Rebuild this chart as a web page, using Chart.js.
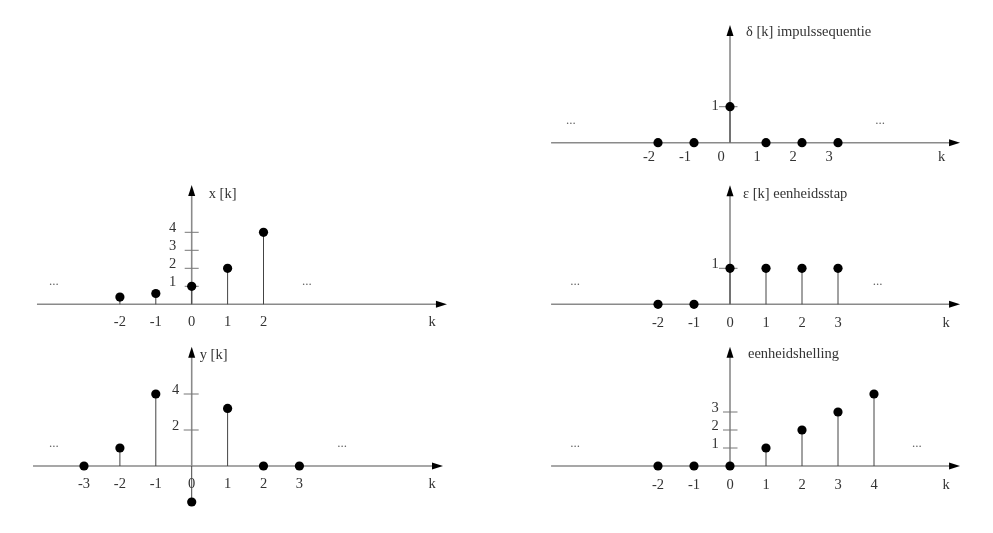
<!DOCTYPE html>
<html>
<head>
<meta charset="utf-8">
<script src="https://cdn.jsdelivr.net/npm/chart.js@4.4.1/dist/chart.umd.min.js"></script>
<style>
body { margin: 0; background: #fff; width: 993px; height: 533px; position: relative; overflow: hidden; }
canvas { position: absolute; }
</style>
</head>
<body>
<canvas id="plot-x"></canvas>
<canvas id="plot-y"></canvas>
<canvas id="plot-delta"></canvas>
<canvas id="plot-step"></canvas>
<canvas id="plot-ramp"></canvas>
<script>
// x[k]
const xK = [-2, -1, 0, 1, 2];
const xValues = [0.4, 0.6, 1, 2, 4];
const xAxisLabels = [-2, -1, 0, 1, 2];
const xValueTicks = [1, 2, 3, 4];

// y[k]
const yK = [-3, -2, -1, 0, 1, 2, 3];
const yValues = [0, 1, 4, -2, 3.2, 0, 0];
const yAxisLabels = [-3, -2, -1, 0, 1, 2, 3];
const yValueTicks = [2, 4];

// impulse
const deltaK = [-2, -1, 0, 1, 2, 3];
const deltaValues = [0, 0, 1, 0, 0, 0];
const deltaAxisLabels = [-2, -1, 0, 1, 2, 3];
const deltaValueTicks = [1];

// unit step
const stepK = [-2, -1, 0, 1, 2, 3];
const stepValues = [0, 0, 1, 1, 1, 1];
const stepAxisLabels = [-2, -1, 0, 1, 2, 3];
const stepValueTicks = [1];

// unit ramp
const rampK = [-2, -1, 0, 1, 2, 3, 4];
const rampValues = [0, 0, 0, 1, 2, 3, 4];
const rampAxisLabels = [-2, -1, 0, 1, 2, 3, 4];
const rampValueTicks = [1, 2, 3];

const FONT = '14.5px "Liberation Serif", "Times New Roman", serif';
const TEXT = '#333';

function line(ctx, x1, y1, x2, y2) {
    ctx.beginPath();
    ctx.moveTo(x1, y1);
    ctx.lineTo(x2, y2);
    ctx.stroke();
}

// axes with arrows, stems, tick marks and texts
const stemPlot = {
    id: "stemPlot",
    beforeDatasetsDraw(chart, args, o) {
        const ctx = chart.ctx;
        const xs = chart.scales.x, ys = chart.scales.y;
        const x0 = xs.getPixelForValue(0);
        const y0 = ys.getPixelForValue(0);
        const right = xs.getPixelForValue(o.xTo);
        const top = ys.getPixelForValue(o.yTo);

        ctx.save();
        ctx.strokeStyle = "#8a8a8a";
        ctx.lineWidth = 1.6;
        line(ctx, xs.getPixelForValue(o.xFrom), y0, right - 8, y0);
        line(ctx, x0, y0, x0, top + 8);

        ctx.fillStyle = "#000";
        ctx.beginPath();
        ctx.moveTo(right, y0);
        ctx.lineTo(right - 11, y0 - 3.5);
        ctx.lineTo(right - 11, y0 + 3.5);
        ctx.closePath();
        ctx.fill();
        ctx.beginPath();
        ctx.moveTo(x0, top);
        ctx.lineTo(x0 - 3.5, top + 11);
        ctx.lineTo(x0 + 3.5, top + 11);
        ctx.closePath();
        ctx.fill();

        // value ticks
        ctx.lineWidth = 1;
        ctx.strokeStyle = "#777";
        ctx.font = FONT;
        ctx.fillStyle = TEXT;
        ctx.textAlign = "center";
        ctx.textBaseline = "middle";
        o.valueTicks.forEach(v => {
            const py = ys.getPixelForValue(v);
            line(ctx, x0 + o.tickFrom, py, x0 + o.tickTo, py);
            ctx.fillText(String(v), x0 + o.tickLabelDx, py + o.tickLabelDy);
        });

        // stems
        ctx.strokeStyle = "#444";
        ctx.lineWidth = 1;
        chart.getDatasetMeta(0).data.forEach(pt => {
            if (Math.abs(pt.y - y0) > 1) line(ctx, pt.x, y0, pt.x, pt.y);
        });

        // k labels
        o.axisLabels.forEach(k => {
            ctx.fillText(String(k), xs.getPixelForValue(k) + o.labelOffset, y0 + o.labelGap);
        });
        ctx.fillText("k", xs.getPixelForValue(o.kAt), y0 + o.labelGap);

        // continuation dots
        ctx.fillStyle = "#666";
        ctx.font = '13px "Liberation Serif", serif';
        o.dots.forEach(d => {
            ctx.fillText("...", xs.getPixelForValue(d[0]), ys.getPixelForValue(d[1]) - 3);
        });

        // title
        ctx.fillStyle = TEXT;
        ctx.font = FONT;
        ctx.textAlign = "left";
        ctx.fillText(o.title, x0 + o.titleDx, top + o.titleDy);
        ctx.restore();
    }
};

function makePlot(id, ks, values, layout, extra) {
    const [bx, by, bw, bh] = layout.box;
    const [ox, oy] = layout.origin;
    const [ux, uy] = layout.unit;
    const canvas = document.getElementById(id);
    canvas.width = bw;
    canvas.height = bh;
    canvas.style.left = bx + "px";
    canvas.style.top = by + "px";

    return new Chart(canvas.getContext("2d"), {
        type: "scatter",
        data: {
            datasets: [{
                data: ks.map((k, i) => ({ x: k, y: values[i] })),
                pointRadius: 4.6,
                pointBackgroundColor: "#000",
                pointBorderWidth: 0,
                showLine: false
            }]
        },
        options: {
            responsive: false,
            animation: false,
            layout: { padding: 0, autoPadding: false },
            scales: {
                x: { type: "linear", display: false, min: (bx - ox) / ux, max: (bx + bw - ox) / ux },
                y: { type: "linear", display: false, min: (oy - by - bh) / uy, max: (oy - by) / uy }
            },
            plugins: {
                legend: { display: false },
                tooltip: { enabled: false },
                stemPlot: extra
            }
        },
        plugins: [stemPlot]
    });
}

makePlot("plot-x", xK, xValues,
    { box: [0, 170, 460, 170], origin: [191.7, 304.3], unit: [35.9, 18] },
    { xFrom: -4.31, xTo: 7.11, yTo: 6.63, valueTicks: xValueTicks, tickFrom: -7, tickTo: 7,
      tickLabelDx: -19, tickLabelDy: -4, axisLabels: xAxisLabels, labelOffset: 0, labelGap: 18, kAt: 6.7,
      dots: [[-3.84, 1.07], [3.21, 1.07]], title: "x [k]", titleDx: 17, titleDy: 9 });

makePlot("plot-y", yK, yValues,
    { box: [0, 340, 460, 193], origin: [191.7, 466], unit: [35.9, 18] },
    { xFrom: -4.42, xTo: 7.0, yTo: 6.63, valueTicks: yValueTicks, tickFrom: -8, tickTo: 7,
      tickLabelDx: -16, tickLabelDy: -4, axisLabels: yAxisLabels, labelOffset: 0, labelGap: 18, kAt: 6.7,
      dots: [[-3.84, 1.07], [4.19, 1.07]], title: "y [k]", titleDx: 8, titleDy: 9 });

makePlot("plot-delta", deltaK, deltaValues,
    { box: [530, 0, 463, 170], origin: [730, 142.7], unit: [36, 36] },
    { xFrom: -4.97, xTo: 6.39, yTo: 3.27, valueTicks: deltaValueTicks, tickFrom: -11, tickTo: 7.5,
      tickLabelDx: -15, tickLabelDy: -1, axisLabels: deltaAxisLabels, labelOffset: -9, labelGap: 14, kAt: 5.88,
      dots: [[-4.42, 0.52], [4.17, 0.52]], title: "δ [k] impulssequentie", titleDx: 16, titleDy: 7 });

makePlot("plot-step", stepK, stepValues,
    { box: [530, 170, 463, 170], origin: [730, 304.3], unit: [36, 36] },
    { xFrom: -4.97, xTo: 6.39, yTo: 3.31, valueTicks: stepValueTicks, tickFrom: -11, tickTo: 7.5,
      tickLabelDx: -15, tickLabelDy: -4, axisLabels: stepAxisLabels, labelOffset: 0, labelGap: 19, kAt: 6.0,
      dots: [[-4.3, 0.54], [4.1, 0.54]], title: "ε [k] eenheidsstap", titleDx: 13, titleDy: 9 });

makePlot("plot-ramp", rampK, rampValues,
    { box: [530, 340, 463, 193], origin: [730, 466], unit: [36, 18] },
    { xFrom: -4.97, xTo: 6.39, yTo: 6.63, valueTicks: rampValueTicks, tickFrom: -7, tickTo: 7.5,
      tickLabelDx: -15, tickLabelDy: -4, axisLabels: rampAxisLabels, labelOffset: 0, labelGap: 19, kAt: 6.0,
      dots: [[-4.3, 1.07], [5.19, 1.07]], title: "eenheidshelling", titleDx: 18, titleDy: 8 });
</script>
</body>
</html>
